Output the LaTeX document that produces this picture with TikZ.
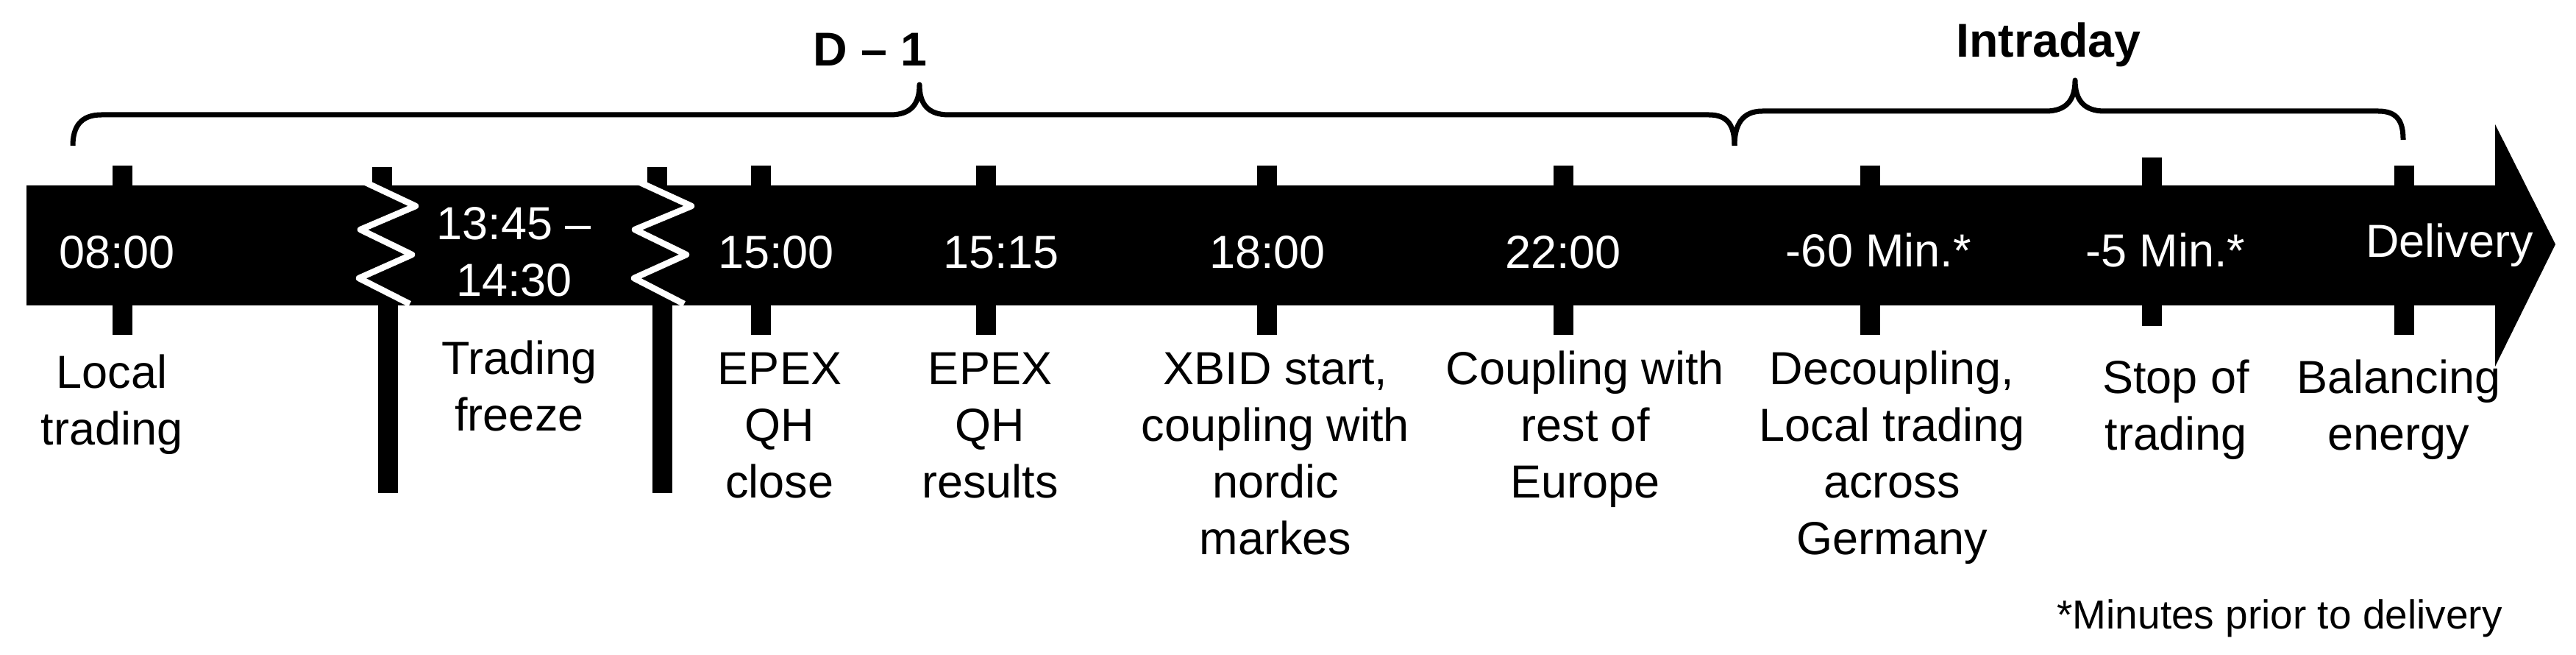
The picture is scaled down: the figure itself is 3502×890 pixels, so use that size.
\documentclass[tikz,border=0pt]{standalone}
\usepackage{fontspec}
\setmainfont{Liberation Sans}
\begin{document}
\begin{tikzpicture}[x=0.2pt,y=-0.2pt,
  tickline/.style={line width=5.4pt,black},
  bracepath/.style={line width=1.4pt,black,line join=round},
  zigzag/.style={line width=1.7pt,white,line join=round},
  bartext/.style={text=white,inner sep=0pt,anchor=base,font=\fontsize{12.6}{15.4}\selectfont},
  labeltext/.style={inner sep=0pt,anchor=north,align=center,font=\fontsize{12.6}{15.4}\selectfont},
  headtext/.style={inner sep=0pt,anchor=base,font=\fontsize{12.9}{15.4}\selectfont\bfseries},
  notetext/.style={inner sep=0pt,anchor=base,font=\fontsize{11}{13}\selectfont}]
\useasboundingbox (0,0) rectangle (3502,890);

% ticks (behind the bar)
\foreach \x in {166,1034,1340,1722,2125,2542,3268}{
  \draw[tickline] (\x,225) -- (\x,455);
}
\draw[tickline] (2925,214) -- (2925,443);
\draw[tickline] (519,227) -- (519,300);
\draw[tickline] (527,380) -- (527,670);
\draw[tickline] (893,227) -- (893,300);
\draw[tickline] (900,380) -- (900,670);

% arrow bar
\fill[black] (36,252) -- (3392,252) -- (3392,169) -- (3474,332) -- (3392,498) -- (3392,415) -- (36,415) -- cycle;

% breaks
\draw[zigzag] (495,247) -- (565,280) -- (490,312) -- (560,346) -- (488,378) -- (557,413);
\draw[zigzag] (868,247) -- (940,280) -- (863,312) -- (933,346) -- (862,378) -- (930,413);

% braces
\draw[bracepath] (99,198) .. controls (99,172) and (110,156) .. (138,156) -- (1210,156)
  .. controls (1238,156) and (1250,142) .. (1250,115)
  .. controls (1250,142) and (1262,156) .. (1290,156) -- (2323,156)
  .. controls (2350,156) and (2358,172) .. (2358,198);
\draw[bracepath] (2358,198) .. controls (2358,170) and (2368,151) .. (2396,151) -- (2781,151)
  .. controls (2809,151) and (2821,136) .. (2821,109)
  .. controls (2821,136) and (2833,151) .. (2861,151) -- (3233,151)
  .. controls (3260,151) and (3267,166) .. (3267,190);

\node[headtext] (dm1) at (1183,90) {D – 1};
\node[headtext] (intra) at (2785,78) {Intraday};

% bar texts
\node[bartext] (t0800) at (159,365) {08:00};
\node[labeltext,text=white] (tfreeze) at (699,271) {\strut 13:45 –\\14:30};
\node[bartext] (t1500) at (1055,365) {15:00};
\node[bartext] (t1515) at (1361,365) {15:15};
\node[bartext] (t1800) at (1723,365) {18:00};
\node[bartext] (t2200) at (2125,365) {22:00};
\node[bartext] (t60) at (2554,363) {-60 Min.*};
\node[bartext] (t5) at (2944,363) {-5 Min.*};
\node[bartext] (tdel) at (3330,350) {Delivery};

% labels
\node[labeltext] (l1) at (152,473) {\strut Local\\trading};
\node[labeltext] (l2) at (706,454) {\strut Trading\\freeze};
\node[labeltext] (l3) at (1060,468) {\strut EPEX\\QH\\close};
\node[labeltext] (l4) at (1346,468) {\strut EPEX\\QH\\results};
\node[labeltext] (l5) at (1734,468) {\strut XBID start,\\coupling with\\nordic\\markes};
\node[labeltext] (l6) at (2155,468) {\strut Coupling with\\rest of\\Europe};
\node[labeltext] (l7) at (2572,468) {\strut Decoupling,\\Local trading\\across\\Germany};
\node[labeltext] (l8) at (2958,480) {\strut Stop of\\trading};
\node[labeltext] (l9) at (3261,480) {\strut Balancing\\energy};

\node[notetext] (note) at (3099,854) {*Minutes prior to delivery};
\end{tikzpicture}
\end{document}
